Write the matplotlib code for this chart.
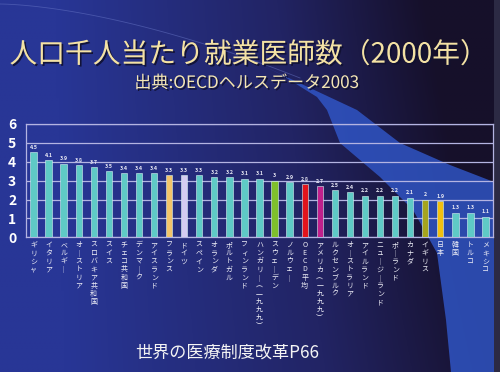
import numpy as np
import matplotlib
matplotlib.use("Agg")
import matplotlib.pyplot as plt
import matplotlib.patheffects as pe
from matplotlib.patches import Polygon

plt.rcParams['font.family'] = ['Noto Sans CJK JP', 'DejaVu Sans']

# data
countries = ['ギリシャ', 'イタリア', 'ベルギー', 'オーストリア', 'スロバキア共和国', 'スイス',
             'チェコ共和国', 'デンマーク', 'アイスランド', 'フランス', 'ドイツ', 'スペイン',
             'オランダ', 'ポルトガル', 'フィンランド', 'ハンガリー（一九九九）', 'スウェーデン',
             'ノルウェー', 'OECD平均', 'アメリカ（一九九九）', 'ルクセンブルク', 'オーストラリア',
             'アイルランド', 'ニュージーランド', 'ポーランド', 'カナダ', 'イギリス', '日本',
             '韓国', 'トルコ', 'メキシコ']
values = [4.5, 4.1, 3.9, 3.8, 3.7, 3.5, 3.4, 3.4, 3.4, 3.3, 3.3, 3.3, 3.2, 3.2, 3.1,
          3.1, 3.0, 2.9, 2.8, 2.7, 2.5, 2.4, 2.2, 2.2, 2.2, 2.1, 2.0, 1.9, 1.3, 1.3, 1.1]
value_text = ['4.5', '4.1', '3.9', '3.8', '3.7', '3.5', '3.4', '3.4', '3.4', '3.3', '3.3',
              '3.3', '3.2', '3.2', '3.1', '3.1', '3', '2.9', '2.8', '2.7', '2.5', '2.4',
              '2.2', '2.2', '2.2', '2.1', '2', '1.9', '1.3', '1.3', '1.1']
highlight = {'フランス': '#f2c46a', 'ドイツ': '#d4ccf2', 'スウェーデン': '#7fc02c',
             'OECD平均': '#e3141c', 'アメリカ（一九九九）': '#c0208c', 'イギリス': '#a6a41e',
             '日本': '#f2c010'}
base_color = '#5fcac6'

W, H = 500, 372
fig = plt.figure(figsize=(5.0, 3.72), dpi=100)

# background: blue gradient with a lighter swoosh band
bg = fig.add_axes([0, 0, 1, 1], zorder=0)
bg.set_xlim(0, W)
bg.set_ylim(H, 0)
bg.axis('off')
xx, yy = np.meshgrid(np.linspace(0, 1, 200), np.linspace(0, 1, 150))
left = np.array([40, 54, 150]) / 255
mid = np.array([34, 36, 100]) / 255
right = np.array([22, 16, 42]) / 255
t = np.clip(xx * 1.15 - 0.15 + (0.2 - yy * 0.2) * xx, 0, 1)[..., None]
img = np.where(t < 0.6, left + (mid - left) * (t / 0.6), mid + (right - mid) * ((t - 0.6) / 0.4))
bg.imshow(img, extent=[0, W, H, 0], aspect='auto', zorder=0)
band = [(255, 62), (293, 80), (357, 110), (400, 143), (450, 165), (494, 182),
        (494, 372), (451, 372), (446, 320), (437, 253), (413, 210), (380, 177),
        (340, 143), (327, 110), (317, 97), (280, 74)]
bg.add_patch(Polygon(band, closed=True, facecolor='#3158cc', edgecolor='none', alpha=0.8, zorder=1))
bg.add_patch(Polygon([(494, 0), (500, 0), (500, 372), (494, 372)], closed=True,
                     facecolor='#2c2a44', edgecolor='none', zorder=1))
arc_x = np.linspace(0, 300, 50)
bg.plot(arc_x, 4 + 74 * (arc_x / 300) ** 1.6, color='#6a78c8', lw=0.6, alpha=0.5, zorder=1)

shadow = [pe.withSimplePatchShadow(offset=(1.2, -1.2), shadow_rgbFace='#101030', alpha=0.9)]
fig.text(0.497, 0.853, '人口千人当たり就業医師数（2000年）', ha='center', va='center',
         fontsize=20, color='#f4e2a4', path_effects=shadow)
fig.text(0.494, 0.777, '出典:OECDヘルスデータ2003', ha='center', va='center',
         fontsize=12.3, color='#f4e6b4', path_effects=shadow)
fig.text(0.455, 0.053, '世界の医療制度改革P66', ha='center', va='center',
         fontsize=12.3, color='#f4f4f4')

ax = fig.add_axes([0.052, 0.362, 0.934, 0.305], zorder=2)
ax.patch.set_alpha(0)
x = np.arange(len(countries))
colors = [highlight.get(c, base_color) for c in countries]
ax.bar(x, values, width=0.42, color=colors, edgecolor='#d8f4f4', linewidth=0.4, zorder=3)
for xi, v, s in zip(x, values, value_text):
    ax.text(xi, v + 0.12, s, ha='center', va='bottom', fontsize=3.8, color='#e8e8f4',
            fontweight='bold', zorder=4)

ax.set_xlim(-0.5, 30.5)
ax.set_ylim(0, 6)
ax.set_yticks(range(7))
ax.tick_params(axis='y', length=0, pad=7, labelsize=10, labelcolor='white')
for lab in ax.get_yticklabels():
    lab.set_fontweight('bold')
ax.set_xticks(x)
ax.tick_params(axis='x', length=2, color='#20205a', labelbottom=False, direction='in')
ax.grid(axis='y', color='#b4b4e2', linewidth=0.9, zorder=1)
for sp in ax.spines.values():
    sp.set_color('#b4b4e2')
    sp.set_linewidth(0.9)

vmap = {'ー': '｜', '（': '︵', '）': '︶'}
for xi, name in zip(x, countries):
    vert = '\n'.join(vmap.get(ch, ch) for ch in name)
    ax.text(xi, -0.2, vert, ha='center', va='top', fontsize=5, color='#f0f0f8',
            linespacing=1.02, zorder=4)

fig.savefig('out.png', dpi=100)
